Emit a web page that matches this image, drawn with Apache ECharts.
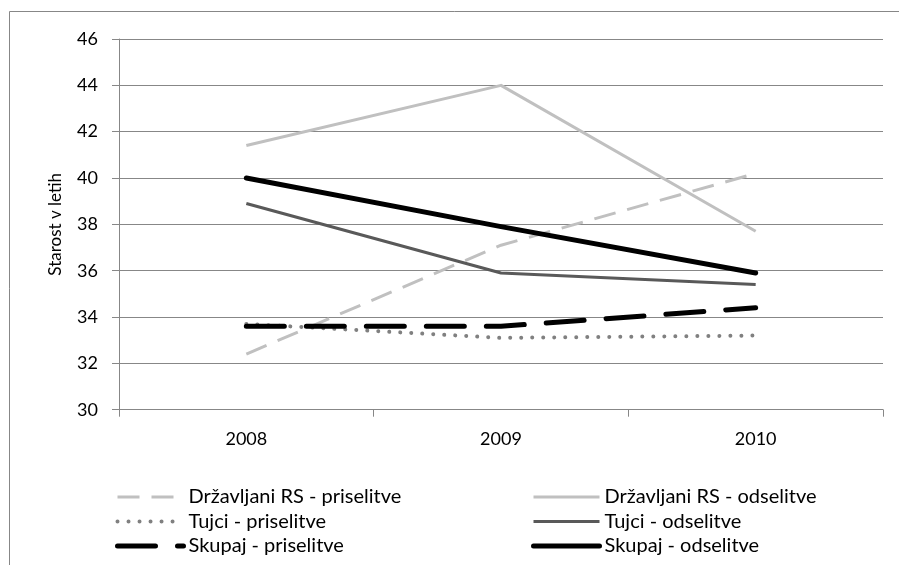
<!DOCTYPE html>
<html>
<head>
<meta charset="utf-8">
<script src="https://cdn.jsdelivr.net/npm/echarts@6/dist/echarts.min.js"></script>
<style>
html,body{margin:0;padding:0;background:#fff;}
#chart{width:899px;height:565px;}
</style>
</head>
<body>
<div id="chart"></div>
<script>
var categories = ['2008', '2009', '2010'];
var drzavljaniPriselitve = [32.4, 37.1, 40.2];
var drzavljaniOdselitve = [41.4, 44.0, 37.7];
var tujciPriselitve = [33.7, 33.1, 33.2];
var tujciOdselitve = [38.9, 35.9, 35.4];
var skupajPriselitve = [33.6, 33.6, 34.4];
var skupajOdselitve = [40.0, 37.9, 35.9];
var seriesNames = [
  'Državljani RS - priselitve', 'Državljani RS - odselitve',
  'Tujci - priselitve', 'Tujci - odselitve',
  'Skupaj - priselitve', 'Skupaj - odselitve'
];
var yAxisName = 'Starost v letih';

var FONT = 'Lato';
var chart = echarts.init(document.getElementById('chart'), null, {renderer: 'canvas'});

var widths = [3, 3, 4, 3, 5, 5];

function mk(i, data, color, type, cap, z) {
  return {
    name: seriesNames[i], type: 'line', data: data, symbol: 'none', silent: true, z: z,
    lineStyle: {color: color, width: widths[i], type: type, cap: cap || 'butt', join: 'round'},
    itemStyle: {color: color},
    emphasis: {disabled: true}, animation: false
  };
}

function legItem(i) {
  return {name: seriesNames[i], lineStyle: {width: widths[i]}};
}

var legendCommon = {
  orient: 'vertical', itemWidth: 66, itemHeight: 14, itemGap: 4.5,
  selectedMode: false, height: 120, padding: 0,
  itemStyle: {opacity: 0},
  textStyle: {fontFamily: FONT, fontSize: 20, color: '#000'},
  top: 487
};

chart.setOption({
  animation: false,
  backgroundColor: '#fff',
  graphic: [{
    type: 'rect', silent: true,
    shape: {x: 9.5, y: 11.5, width: 1200, height: 1000},
    style: {fill: 'none', stroke: '#878787', lineWidth: 1}
  }],
  grid: {left: 119, right: 16, top: 39, bottom: 155.3},
  legend: [
    Object.assign({}, legendCommon, {left: 115, data: [legItem(0), legItem(2), legItem(4)]}),
    Object.assign({}, legendCommon, {left: 531, data: [legItem(1), legItem(3), legItem(5)]})
  ],
  xAxis: {
    type: 'category', data: categories, boundaryGap: true,
    axisLine: {lineStyle: {color: '#878787', width: 1}},
    axisTick: {show: true, length: 7, lineStyle: {color: '#878787'}},
    axisLabel: {fontFamily: FONT, fontSize: 18, color: '#000', margin: 20},
    splitLine: {show: false}
  },
  yAxis: {
    type: 'value', min: 30, max: 46, interval: 2,
    name: yAxisName, nameLocation: 'middle', nameGap: 55, nameRotate: 90,
    nameTextStyle: {fontFamily: FONT, fontSize: 17, color: '#000'},
    axisLine: {show: true, lineStyle: {color: '#878787', width: 1}},
    axisTick: {show: true, length: 7, lineStyle: {color: '#878787'}},
    axisLabel: {fontFamily: FONT, fontSize: 18, color: '#000', margin: 21},
    splitLine: {show: true, lineStyle: {color: '#878787', width: 1}}
  },
  series: [
    mk(0, drzavljaniPriselitve, '#c0c0c0', [22, 12], 'butt', 2),
    mk(1, drzavljaniOdselitve, '#c0c0c0', 'solid', 'butt', 2),
    mk(2, tujciPriselitve, '#808080', [0.01, 11], 'round', 3),
    mk(3, tujciOdselitve, '#595959', 'solid', 'butt', 3),
    mk(4, skupajPriselitve, '#000000', [38, 22], 'round', 4),
    mk(5, skupajOdselitve, '#000000', 'solid', 'round', 4)
  ]
});
</script>
</body>
</html>
